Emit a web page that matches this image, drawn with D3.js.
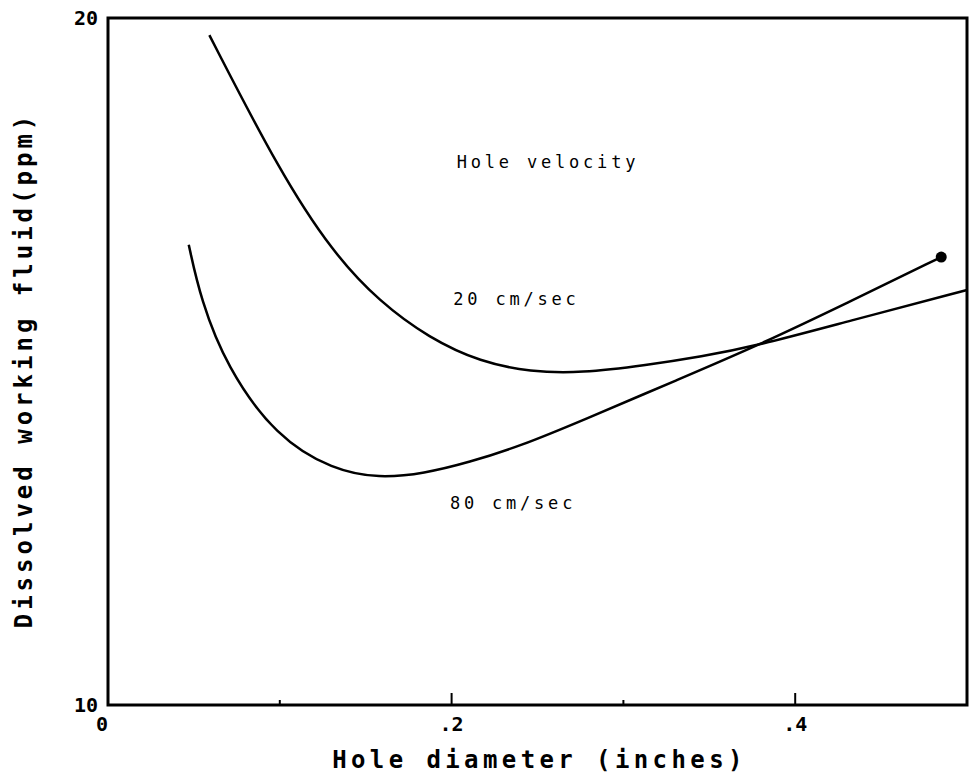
<!DOCTYPE html>
<html>
<head>
<meta charset="utf-8">
<script src="https://cdn.jsdelivr.net/npm/d3@7"></script>
<style>
  body { margin: 0; background: #fff; }
  text { font-family: "DejaVu Sans Mono", "Liberation Mono", monospace; fill: #000; }
</style>
</head>
<body>
<script>
// hole diameter (inches) vs dissolved working fluid (ppm)
var diam20 = [0.059, 0.100, 0.131, 0.158, 0.187, 0.217, 0.246, 0.275, 0.314, 0.345, 0.378, 0.430, 0.500];
var ppm20  = [19.75, 17.76, 16.58, 15.87, 15.34, 14.99, 14.85, 14.83, 14.95, 15.07, 15.23, 15.58, 16.04];

var diam80 = [0.047, 0.054, 0.069, 0.098, 0.131, 0.158, 0.184, 0.210, 0.240, 0.275, 0.333, 0.378, 0.430, 0.485];
var ppm80  = [16.70, 15.90, 14.92, 13.90, 13.42, 13.30, 13.37, 13.53, 13.77, 14.13, 14.75, 15.23, 15.85, 16.52];

var xTicks = [0, 0.2, 0.4];
var xTickLabels = ["0", ".2", ".4"];
var xMinorTicks = [0.1, 0.3];
var yTicks = [10, 20];

var notes = ["Hole velocity", "20 cm/sec", "80 cm/sec"];
var noteX = [0.203, 0.201, 0.199];
var noteY = [17.82, 15.82, 12.85];

var width = 973,
    height = 780;

var svg = d3.select("body").append("svg")
    .attr("width", width)
    .attr("height", height);

var x = d3.scaleLinear().domain([0, 0.5]).range([108, 967]);
var y = d3.scaleLinear().domain([10, 20]).range([705, 18]);

var line = d3.line()
    .x(function(d) { return x(d[0]); })
    .y(function(d) { return y(d[1]); })
    .curve(d3.curveBasis);

// frame
svg.append("rect")
    .attr("x", x(0)).attr("y", y(20))
    .attr("width", x(0.5) - x(0)).attr("height", y(10) - y(20))
    .attr("fill", "none").attr("stroke", "#000").attr("stroke-width", 3);

// ticks along the bottom
svg.selectAll("line.major").data(xTicks.slice(1))
  .enter().append("line")
    .attr("x1", function(d) { return x(d); }).attr("x2", function(d) { return x(d); })
    .attr("y1", y(10)).attr("y2", y(10) - 12)
    .attr("stroke", "#000").attr("stroke-width", 2);
svg.selectAll("line.minor").data(xMinorTicks)
  .enter().append("line")
    .attr("x1", function(d) { return x(d); }).attr("x2", function(d) { return x(d); })
    .attr("y1", y(10)).attr("y2", y(10) - 5)
    .attr("stroke", "#000").attr("stroke-width", 2);

svg.selectAll("text.xt").data(xTicks)
  .enter().append("text")
    .attr("x", function(d) { return x(d) - (d === 0 ? 6 : 0); })
    .attr("y", y(10) + 26)
    .attr("text-anchor", "middle")
    .style("font-size", "20px").style("font-weight", "bold")
    .text(function(d, i) { return xTickLabels[i]; });

svg.selectAll("text.yt").data(yTicks)
  .enter().append("text")
    .attr("x", x(0) - 10)
    .attr("y", function(d) { return y(d) + 7; })
    .attr("text-anchor", "end")
    .style("font-size", "20px").style("font-weight", "bold")
    .text(function(d) { return d; });

// axis titles
svg.append("text")
    .attr("x", (x(0) + x(0.5)) / 2 + 2)
    .attr("y", 768)
    .attr("text-anchor", "middle")
    .style("font-size", "24px").style("font-weight", "bold")
    .attr("letter-spacing", 4.4)
    .text("Hole diameter (inches)");

svg.append("text")
    .attr("transform", "translate(32," + 370 + ") rotate(-90)")
    .attr("text-anchor", "middle")
    .style("font-size", "24px").style("font-weight", "bold")
    .attr("letter-spacing", 4)
    .text("Dissolved working fluid(ppm)");

// curves
var s20 = d3.zip(diam20, ppm20);
var s80 = d3.zip(diam80, ppm80);

svg.selectAll("path.curve").data([s20, s80])
  .enter().append("path")
    .attr("d", line)
    .attr("fill", "none")
    .attr("stroke", "#000")
    .attr("stroke-width", 2.5);

var last = s80[s80.length - 1];
svg.append("circle")
    .attr("cx", x(last[0])).attr("cy", y(last[1]))
    .attr("r", 5.5)
    .attr("fill", "#000");

// annotations
svg.selectAll("text.note").data(notes)
  .enter().append("text")
    .attr("x", function(d, i) { return x(noteX[i]); })
    .attr("y", function(d, i) { return y(noteY[i]); })
    .style("font-size", "17px")
    .attr("letter-spacing", 3.8)
    .text(function(d) { return d; });
</script>
</body>
</html>
